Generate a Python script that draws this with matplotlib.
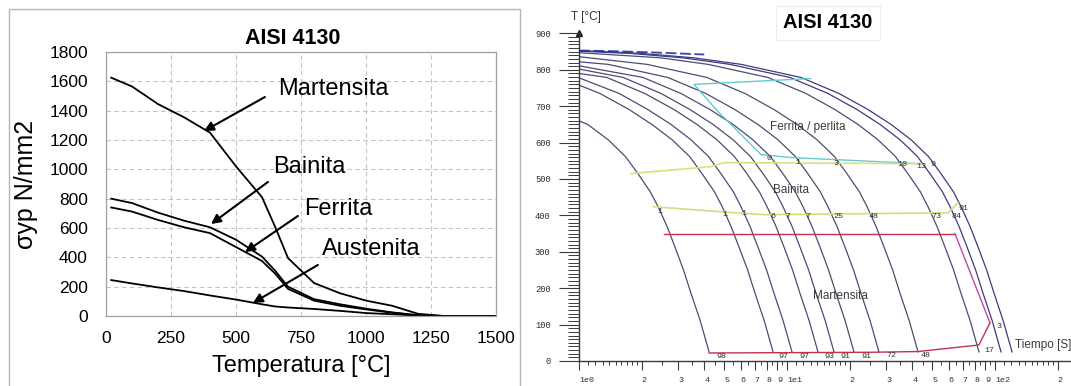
import matplotlib
matplotlib.use('Agg')
import matplotlib.pyplot as plt
from matplotlib.patches import Rectangle

plt.rcParams['font.family'] = ['Liberation Sans', 'DejaVu Sans']

# ---------------- Left chart data ----------------
temp = [20, 100, 200, 300, 400, 500, 600, 650, 700, 800, 900, 1000, 1100, 1200, 1300, 1500]
martensita = [1625, 1565, 1445, 1355, 1250, 1020, 810, 610, 395, 225, 155, 105, 70, 15, 0, 0]
bainita = [800, 770, 705, 650, 605, 520, 405, 310, 200, 115, 80, 50, 25, 5, 0, 0]
ferrita = [740, 712, 655, 605, 565, 470, 375, 290, 185, 105, 70, 45, 22, 5, 0, 0]
austenita = [245, 222, 195, 170, 140, 112, 80, 65, 58, 48, 35, 20, 12, 3, 0, 0]

phase_names = ['Martensita', 'Bainita', 'Ferrita', 'Austenita']
label_xy = [(661, 1548), (642, 1016), (762, 730), (831, 457)]
arrow_tail = [(611, 1493), (623, 914), (738, 682), (815, 348)]
arrow_tip = [(377, 1261), (404, 627), (535, 436), (565, 89)]

left_xticks = [0, 250, 500, 750, 1000, 1250, 1500]
left_yticks = [0, 200, 400, 600, 800, 1000, 1200, 1400, 1600, 1800]

# ---------------- Right chart (CCT) data ----------------
cooling_t = [
    [1, 1.10, 1.38, 1.67, 1.92, 2.20, 2.40, 2.65, 2.89, 3.18, 3.45, 3.83, 4.22],
    [1, 1.26, 1.74, 2.24, 2.80, 3.40, 3.90, 4.48, 4.88, 5.38, 5.87, 6.47, 7.01, 7.78, 8.57],
    [1, 1.56, 2.14, 2.77, 3.45, 4.19, 4.81, 5.52, 6.01, 6.64, 7.24, 7.98, 8.65, 9.59, 10.57],
    [1, 1.36, 2.07, 2.86, 3.69, 4.60, 5.58, 6.41, 7.36, 8.02, 8.85, 9.66, 10.64, 11.53, 12.79, 14.09],
    [1, 1.63, 2.48, 3.41, 4.41, 5.50, 6.67, 7.66, 8.79, 9.57, 10.57, 11.53, 12.71, 13.77, 15.28, 16.83],
    [1, 2.03, 3.09, 4.26, 5.50, 6.85, 8.32, 9.55, 10.96, 11.94, 13.18, 14.39, 15.85, 17.18, 19.05, 20.99],
    [1, 1.38, 2.67, 4.07, 5.61, 7.24, 9.04, 10.96, 12.59, 14.45, 15.74, 17.38, 18.97, 20.89, 22.65, 25.12, 27.67],
    [1, 2.12, 4.12, 6.28, 8.65, 11.17, 13.93, 16.90, 19.41, 22.28, 24.27, 26.79, 29.24, 32.21, 34.91, 38.73, 42.66],
    [1, 2.46, 4.17, 8.09, 12.33, 16.98, 21.93, 27.35, 33.19, 38.11, 43.75, 47.64, 52.60, 57.41, 63.24, 68.55, 76.03, 83.75],
    [1, 1.77, 3.14, 5.32, 10.33, 15.74, 21.68, 27.99, 34.91, 42.36, 48.64, 55.85, 60.81, 67.14, 73.28, 80.72, 87.50, 97.05, 106.9],
    [1, 2.0, 3.55, 6.01, 11.67, 17.78, 24.49, 31.62, 39.45, 47.86, 54.95, 63.10, 68.71, 75.86, 82.79, 91.20, 98.86, 109.6, 120.8],
]
cooling_T = [
    [660, 650, 608, 562, 515, 465, 424, 370, 314, 250, 187, 110, 25],
    [758, 735, 691, 650, 608, 562, 515, 465, 424, 370, 314, 250, 187, 110, 25],
    [778, 735, 691, 650, 608, 562, 515, 465, 424, 370, 314, 250, 187, 110, 25],
    [790, 779, 735, 691, 650, 608, 562, 515, 465, 424, 370, 314, 250, 187, 110, 25],
    [802, 779, 735, 691, 650, 608, 562, 515, 465, 424, 370, 314, 250, 187, 110, 25],
    [811, 779, 735, 691, 650, 608, 562, 515, 465, 424, 370, 314, 250, 187, 110, 25],
    [822, 815, 779, 735, 691, 650, 608, 562, 515, 465, 424, 370, 314, 250, 187, 110, 25],
    [836, 815, 779, 735, 691, 650, 608, 562, 515, 465, 424, 370, 314, 250, 187, 110, 25],
    [847, 833, 815, 779, 735, 691, 650, 608, 562, 515, 465, 424, 370, 314, 250, 187, 110, 25],
    [851, 845, 833, 815, 779, 735, 691, 650, 608, 562, 515, 465, 424, 370, 314, 250, 187, 110, 25],
    [853, 845, 833, 815, 779, 735, 691, 650, 608, 562, 515, 465, 424, 370, 314, 250, 187, 110, 25],
]
top_dash_t = [1, 1.5, 2.2, 3.0, 4.0]
top_dash_T = [853, 851, 848, 845, 842]

ferr_start_t = [13.0, 5.38, 3.57, 4.66, 5.38, 7.50, 10.45, 44.1]
ferr_start_T = [776, 765, 760, 685, 650, 567, 559, 542]
bain_start_t = [1.78, 4.31, 4.98, 45.1]
bain_start_T = [515, 534, 545, 542]
bain_end_t = [2.27, 4.82, 7.75, 59.4, 66.4]
bain_end_T = [424, 410, 402, 407, 435]
ms_t = [2.56, 64.2]
ms_T = [350, 350]
ms_diag_t = [64.2, 94.6]
ms_diag_T = [350, 105]
mf_t = [94.6, 83.7, 42.7, 25.3, 4.22]
mf_T = [105, 44, 26, 24, 22]

row400_labels = ['1', '1', '1', '6', '7', '7', '25', '48', '73', '84', '91']
row400_t = [2.45, 5.03, 6.21, 8.57, 10.1, 12.6, 17.6, 26.2, 52.0, 65.0, 70.2]
row400_T = [410, 402, 405, 396, 396, 396, 396, 396, 396, 396, 418]
row550_labels = ['0', '1', '3', '10', '13', '9']
row550_t = [8.19, 11.3, 17.2, 36.1, 44.1, 50.3]
row550_T = [556, 545, 542, 540, 534, 540]
bottom_labels = ['98', '97', '97', '93', '91', '91', '72', '48', '17', '3']
bottom_t = [4.82, 9.57, 12.1, 15.9, 19.0, 24.0, 31.6, 46.6, 93.6, 104.6]
bottom_T = [11, 11, 11, 11, 11, 11, 14, 14, 30, 96]

region_labels = ['Ferrita / perlita', 'Bainita', 'Martensita']
region_t = [12.6, 10.5, 18.0]
region_T = [644, 471, 179]

cct_xticks = [1, 2, 3, 4, 5, 6, 7, 8, 9, 10, 20, 30, 40, 50, 60, 70, 80, 90, 100, 200]
cct_xticklabels = ['1e0', '2', '3', '4', '5', '6', '7', '8', '9', '1e1',
                   '2', '3', '4', '5', '6', '7', '8', '9', '1e2', '2']
cct_yticks = [0, 100, 200, 300, 400, 500, 600, 700, 800, 900]
cct_yticklabels = ['0', '100', '200', '300', '400', '500', '600', '700', '800', '900']

# ---------------- Figure ----------------
W, H = 1071, 386
fig = plt.figure(figsize=(W / 100, H / 100), dpi=100)


def fx(px):
    return px / W


def fy(py):
    return 1 - py / H


# frame around left panel
fig.add_artist(Rectangle((fx(9), -0.02), fx(520) - fx(9), fy(9) + 0.02,
                         transform=fig.transFigure, fill=False,
                         edgecolor='#b5b5b5', lw=1.0))

axL = fig.add_axes([fx(106), fy(316), (496 - 106) / W, (316 - 52) / H])
for ys in (martensita, bainita, ferrita, austenita):
    axL.plot(temp, ys, color='black', lw=1.3)
axL.set_xlim(0, 1500)
axL.set_ylim(0, 1800)
axL.set_xticks(left_xticks)
axL.set_yticks(left_yticks)
axL.grid(True, color='#c4c4c4', lw=0.8, linestyle=(0, (4, 3)))
axL.set_axisbelow(True)
for s in axL.spines.values():
    s.set_color('#a0a0a0')
    s.set_linewidth(0.9)
axL.tick_params(length=0, labelsize=12.5, pad=11)
axL.tick_params(axis='y', pad=13)
axL.set_xlabel('Temperatura [°C]', fontsize=17, labelpad=6)
axL.set_ylabel('σyp N/mm2', fontsize=18, labelpad=8)
fig.text(fx(293), fy(39), 'AISI 4130', fontsize=15.5, fontweight='bold',
         ha='center', va='center')

for name, (tx, ty), tail, tip in zip(phase_names, label_xy, arrow_tail, arrow_tip):
    axL.text(tx, ty, name, fontsize=17, ha='left', va='center')
    axL.annotate('', xy=tip, xytext=tail,
                 arrowprops=dict(arrowstyle='-|>', color='black', lw=1.5,
                                 mutation_scale=14, shrinkA=0, shrinkB=0))

# ---------------- Right panel ----------------
axR = fig.add_axes([fx(579), fy(361), (W - 579) / W, (361 - 33.4) / H])
axR.set_xscale('log')
axR.set_xlim(1, 232)
axR.set_ylim(0, 900)

curve_col = '#4c4c74'
for i, (ts, Ts) in enumerate(zip(cooling_t, cooling_T)):
    axR.plot(ts, Ts, color=('#3c3c80' if i >= 9 else curve_col), lw=0.9)
axR.plot(top_dash_t, top_dash_T, color='#22309a', lw=1.3, dashes=(6, 2), alpha=0.9)

axR.plot(ferr_start_t, ferr_start_T, color='#66c9d2', lw=1.0)
axR.plot(bain_start_t, bain_start_T, color='#d9e27a', lw=1.2)
axR.plot(bain_end_t, bain_end_T, color='#d4de7a', lw=1.2)
axR.plot(ms_t, ms_T, color='#c4304e', lw=1.0)
axR.plot(ms_diag_t, ms_diag_T, color='#b84aa2', lw=1.0)
axR.plot(mf_t, mf_T, color='#c4304e', lw=1.0)

mono = ['Liberation Mono', 'DejaVu Sans Mono']
small_col = '#2e2e2e'
for lab, t, T in zip(row400_labels, row400_t, row400_T):
    axR.text(t, T, lab, fontsize=6, family=mono, color=small_col, ha='center', va='center')
for lab, t, T in zip(row550_labels, row550_t, row550_T):
    axR.text(t, T, lab, fontsize=6, family=mono, color=small_col, ha='center', va='center')
for lab, t, T in zip(bottom_labels, bottom_t, bottom_T):
    axR.text(t, T, lab, fontsize=6, family=mono, color=small_col, ha='center', va='center')

for lab, t, T in zip(region_labels, region_t, region_T):
    axR.text(t, T, lab, fontsize=8.5, color='#3c3c3c', ha='center', va='center')
axR.text(125, 44, 'Tiempo [S]', fontsize=8.5, color='#3c3c3c', ha='left', va='center')

for side in ('top', 'right'):
    axR.spines[side].set_visible(False)
for side in ('left', 'bottom'):
    axR.spines[side].set_color('#3a3a3a')
    axR.spines[side].set_linewidth(1.0)

axR.set_xticks(cct_xticks)
axR.set_xticklabels(cct_xticklabels, family=mono, fontsize=6, color=small_col)
for lbl in axR.get_xticklabels():
    lbl.set_horizontalalignment('left')
minor_frac = [1.1, 1.2, 1.3, 1.4, 1.5, 1.6, 1.7, 1.8, 1.9, 2.5, 3.5, 4.5, 5.5, 6.5, 7.5, 8.5, 9.5]
axR.set_xticks([f * d for d in (1, 10, 100) for f in minor_frac if f * d < 232], minor=True)
axR.set_xticklabels([], minor=True)
axR.set_yticks(cct_yticks)
axR.set_yticklabels(cct_yticklabels, family=mono, fontsize=6.3, color=small_col)
axR.set_yticks(list(range(0, 901, 10)), minor=True)
axR.set_yticklabels([], minor=True)
axR.tick_params(axis='x', which='major', length=6.5, width=0.8, color='#3a3a3a', pad=5)
axR.tick_params(axis='x', which='minor', length=3, width=0.7, color='#3a3a3a')
axR.tick_params(axis='y', which='major', length=14.4, width=0.8, color='#3a3a3a', pad=6)
axR.tick_params(axis='y', which='minor', length=8, width=0.7, color='#3a3a3a')
axR.plot([1], [1.0], marker='^', ms=4, color='#222222', transform=axR.get_xaxis_transform(), clip_on=False)

fig.text(fx(586), fy(17), 'T [°C]', fontsize=8.5, color='#333333', ha='center', va='center')
fig.text(fx(828), fy(23), 'AISI 4130', fontsize=14.5, fontweight='bold', ha='center', va='center',
         bbox=dict(boxstyle='square,pad=0.35', fc='white', ec='#ececec', lw=0.8))

fig.savefig('out.png', dpi=100)
